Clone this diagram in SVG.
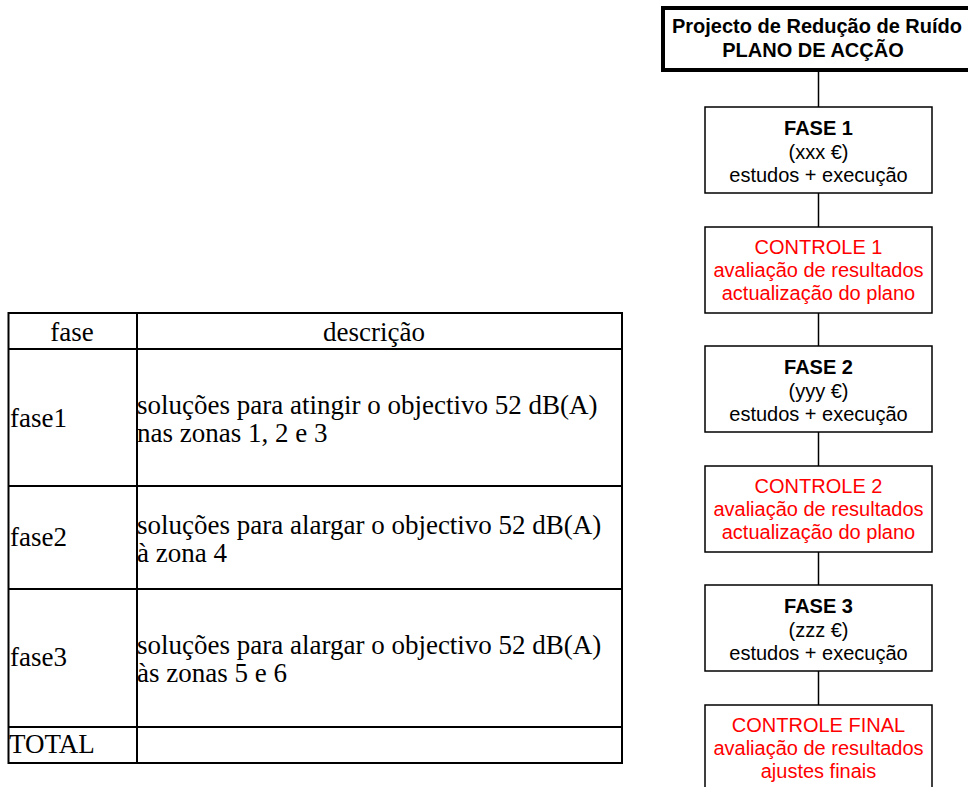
<svg xmlns="http://www.w3.org/2000/svg" width="968" height="787" viewBox="0 0 968 787">
<style>
.tb{fill:none;stroke:#000;stroke-width:2}
.tt{font-family:"Liberation Serif","Times New Roman",serif;font-size:27px;fill:#000}
.bx{fill:#fff;stroke:#000;stroke-width:1.5}
.ft{font-family:"Liberation Sans",Arial,sans-serif;font-size:20px;text-anchor:middle;fill:#000}
.red{fill:#ff0000}
.b{font-weight:bold}
.cn{stroke:#000;stroke-width:1.5;fill:none}
</style>
<rect width="968" height="787" fill="#fff"/>
<g id="table">
<rect class="tb" x="8.5" y="313" width="613.5" height="450"/>
<line class="tb" x1="137" y1="313" x2="137" y2="763"/>
<line class="tb" x1="8.5" y1="349" x2="622" y2="349"/>
<line class="tb" x1="8.5" y1="486" x2="622" y2="486"/>
<line class="tb" x1="8.5" y1="589" x2="622" y2="589"/>
<line class="tb" x1="8.5" y1="727" x2="622" y2="727"/>
<text class="tt" x="72" y="341" text-anchor="middle">fase</text>
<text class="tt" x="374" y="341" text-anchor="middle">descrição</text>
<text class="tt" x="10" y="427">fase1</text>
<text class="tt" x="137" y="414">soluções para atingir o objectivo 52 dB(A)</text>
<text class="tt" x="137" y="442">nas zonas 1, 2 e 3</text>
<text class="tt" x="10" y="546">fase2</text>
<text class="tt" x="137" y="534">soluções para alargar o objectivo 52 dB(A)</text>
<text class="tt" x="137" y="562">à zona 4</text>
<text class="tt" x="10" y="666">fase3</text>
<text class="tt" x="137" y="654">soluções para alargar o objectivo 52 dB(A)</text>
<text class="tt" x="137" y="682">às zonas 5 e 6</text>
<text class="tt" x="9" y="753">TOTAL</text>
</g>
<g id="connectors">
<line class="cn" x1="818.5" y1="70" x2="818.5" y2="107"/>
<line class="cn" x1="818.5" y1="193" x2="818.5" y2="227"/>
<line class="cn" x1="818.5" y1="313" x2="818.5" y2="346"/>
<line class="cn" x1="818.5" y1="432" x2="818.5" y2="466"/>
<line class="cn" x1="818.5" y1="552" x2="818.5" y2="585"/>
<line class="cn" x1="818.5" y1="671" x2="818.5" y2="705"/>
</g>
<g id="title">
<rect x="663" y="8" width="330" height="62" fill="#fff" stroke="#000" stroke-width="4"/>
<text class="ft b" x="817" y="33">Projecto de Redução de Ruído</text>
<text class="ft b" x="813" y="57">PLANO DE ACÇÃO</text>
</g>
<g id="fase1">
<rect class="bx" x="705" y="107" width="227" height="86"/>
<text class="ft b" x="818.5" y="135">FASE 1</text>
<text class="ft" x="818.5" y="159">(xxx €)</text>
<text class="ft" x="818.5" y="182">estudos + execução</text>
</g>
<g id="controle1">
<rect class="bx" x="705" y="227" width="227" height="86"/>
<text class="ft red" x="818.5" y="254">CONTROLE 1</text>
<text class="ft red" x="818.5" y="277">avaliação de resultados</text>
<text class="ft red" x="818.5" y="300">actualização do plano</text>
</g>
<g id="fase2">
<rect class="bx" x="705" y="346" width="227" height="86"/>
<text class="ft b" x="818.5" y="374">FASE 2</text>
<text class="ft" x="818.5" y="398">(yyy €)</text>
<text class="ft" x="818.5" y="421">estudos + execução</text>
</g>
<g id="controle2">
<rect class="bx" x="705" y="466" width="227" height="86"/>
<text class="ft red" x="818.5" y="493">CONTROLE 2</text>
<text class="ft red" x="818.5" y="516">avaliação de resultados</text>
<text class="ft red" x="818.5" y="539">actualização do plano</text>
</g>
<g id="fase3">
<rect class="bx" x="705" y="585" width="227" height="86"/>
<text class="ft b" x="818.5" y="613">FASE 3</text>
<text class="ft" x="818.5" y="637">(zzz €)</text>
<text class="ft" x="818.5" y="660">estudos + execução</text>
</g>
<g id="controlefinal">
<rect class="bx" x="705" y="705" width="227" height="86"/>
<text class="ft red" x="818.5" y="732">CONTROLE FINAL</text>
<text class="ft red" x="818.5" y="755">avaliação de resultados</text>
<text class="ft red" x="818.5" y="778">ajustes finais</text>
</g>
</svg>
